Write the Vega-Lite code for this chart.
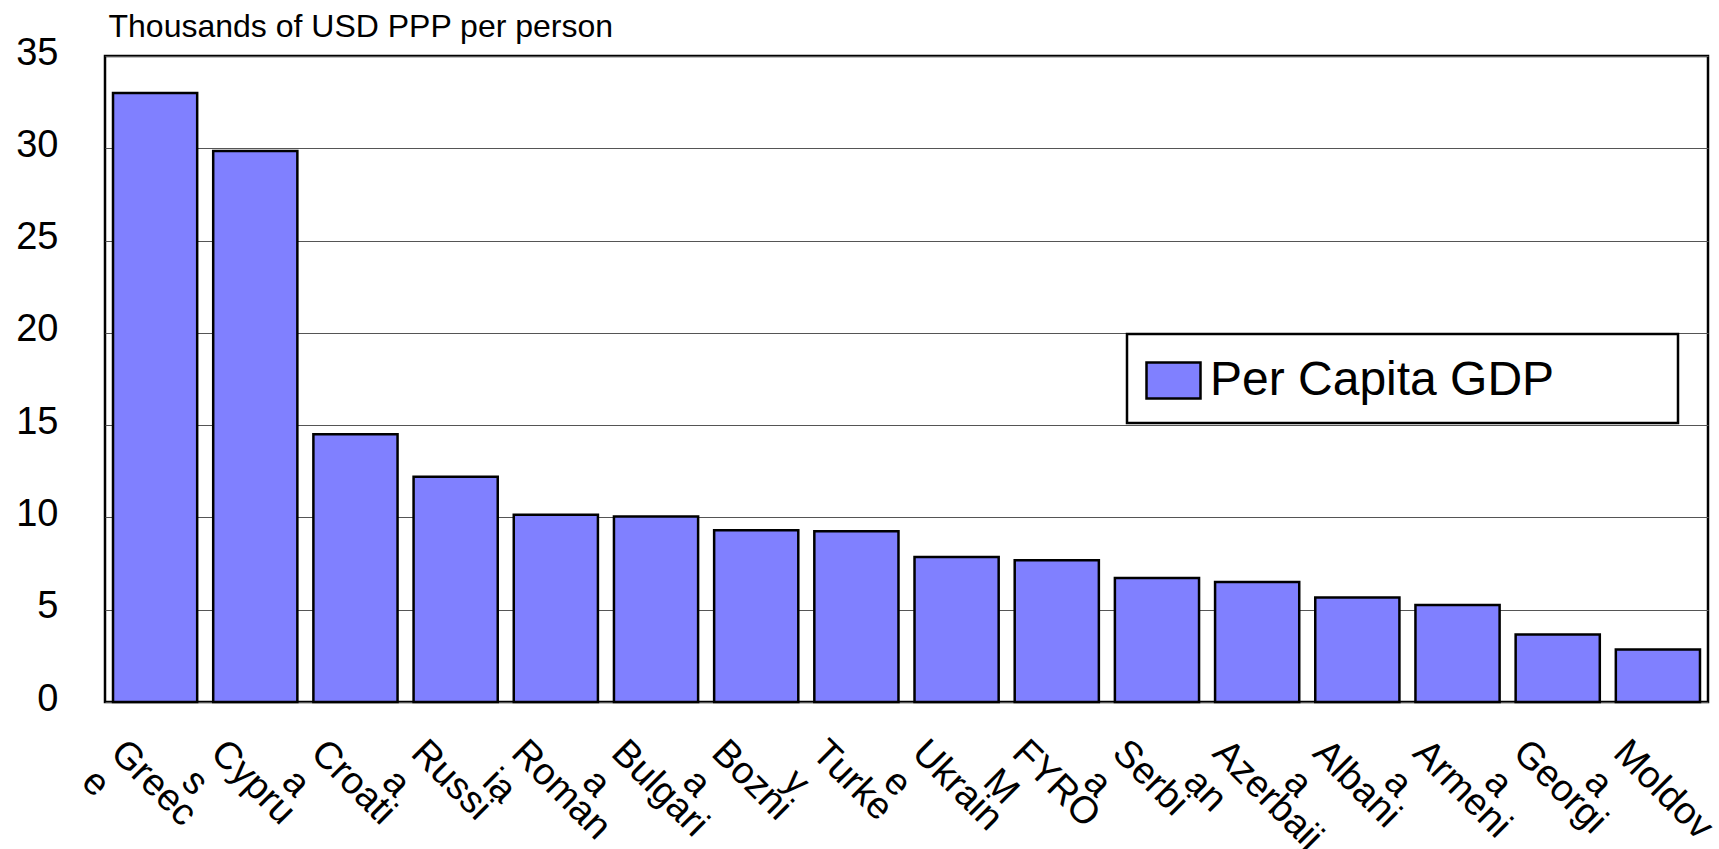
{
  "$schema": "https://vega.github.io/schema/vega-lite/v6.json",
  "width": 1603,
  "height": 646,
  "autosize": {"type": "none"},
  "padding": {"left": 105, "top": 56, "right": 11, "bottom": 147},
  "background": "white",
  "config": {
    "font": "Liberation Sans",
    "view": {"stroke": "black", "strokeWidth": 2.5},
    "legend": {"strokeWidth": 2.5}
  },
  "data": {
    "values": [
      {"country": "Greece", "gdp": 33.0, "series": "Per Capita GDP"},
      {"country": "Cyprus", "gdp": 29.85, "series": "Per Capita GDP"},
      {"country": "Croatia", "gdp": 14.5, "series": "Per Capita GDP"},
      {"country": "Russia", "gdp": 12.2, "series": "Per Capita GDP"},
      {"country": "Romania", "gdp": 10.15, "series": "Per Capita GDP"},
      {"country": "Bulgaria", "gdp": 10.05, "series": "Per Capita GDP"},
      {"country": "Boznia", "gdp": 9.3, "series": "Per Capita GDP"},
      {"country": "Turkey", "gdp": 9.25, "series": "Per Capita GDP"},
      {"country": "Ukraine", "gdp": 7.85, "series": "Per Capita GDP"},
      {"country": "FYROM", "gdp": 7.68, "series": "Per Capita GDP"},
      {"country": "Serbia", "gdp": 6.72, "series": "Per Capita GDP"},
      {"country": "Azerbaijan", "gdp": 6.5, "series": "Per Capita GDP"},
      {"country": "Albania", "gdp": 5.66, "series": "Per Capita GDP"},
      {"country": "Armenia", "gdp": 5.25, "series": "Per Capita GDP"},
      {"country": "Georgia", "gdp": 3.66, "series": "Per Capita GDP"},
      {"country": "Moldova", "gdp": 2.85, "series": "Per Capita GDP"}
    ]
  },
  "mark": {"type": "bar", "stroke": "black", "strokeWidth": 2.5},
  "encoding": {
    "x": {
      "field": "country",
      "type": "nominal",
      "sort": null,
      "scale": {"paddingInner": 0.16, "paddingOuter": 0.08},
      "axis": {
        "title": null,
        "domain": false,
        "ticks": false,
        "tickSize": 0,
        "labelAngle": 45,
        "labelAlign": "left",
        "labelBaseline": "top",
        "labelFontSize": 38,
        "labelLineHeight": 41,
        "labelColor": "black",
        "labelPadding": 31,
        "labelOffset": -25,
        "labelOverlap": false,
        "labelBound": false,
        "labelLimit": 400,
        "labelExpr": "{'Greece':['Greec','e'],'Cyprus':['Cypru','s'],'Croatia':['Croati','a'],'Russia':['Russi','a'],'Romania':['Roman','ia'],'Bulgaria':['Bulgari','a'],'Boznia':['Bozni','a'],'Turkey':['Turke','y'],'Ukraine':['Ukrain','e'],'FYROM':['FYRO','M'],'Serbia':['Serbi','a'],'Azerbaijan':['Azerbaij','an'],'Albania':['Albani','a'],'Armenia':['Armeni','a'],'Georgia':['Georgi','a'],'Moldova':['Moldov','a']}[datum.value]"
      }
    },
    "y": {
      "field": "gdp",
      "type": "quantitative",
      "scale": {"domain": [0, 35], "nice": false},
      "axis": {
        "values": [0, 5, 10, 15, 20, 25, 30, 35],
        "title": "Thousands of USD PPP per person",
        "titleAngle": 0,
        "titleAlign": "left",
        "titleBaseline": "alphabetic",
        "titleX": 3,
        "titleY": -20,
        "titleFontSize": 32,
        "titleFontWeight": "normal",
        "titleColor": "black",
        "domain": false,
        "ticks": false,
        "tickSize": 0,
        "grid": true,
        "gridColor": "#555555",
        "gridWidth": 1,
        "labelFontSize": 38,
        "labelColor": "black",
        "labelPadding": 47,
        "labelOffset": -3
      }
    },
    "fill": {
      "field": "series",
      "type": "nominal",
      "scale": {"range": ["#8080ff"]},
      "legend": {
        "title": null,
        "orient": "none",
        "legendX": 1022,
        "legendY": 278,
        "padding": 18,
        "fillColor": "white",
        "strokeColor": "black",
        "symbolType": "M-1,-0.667H1V0.667H-1Z",
        "symbolSize": 2916,
        "symbolStrokeColor": "black",
        "symbolStrokeWidth": 2.5,
        "symbolFillColor": "#8080ff",
        "symbolOpacity": 1,
        "labelFontSize": 48,
        "labelColor": "black",
        "labelOffset": 8,
        "labelLimit": 800,
        "labelExpr": "datum.label + '\u2800\u2800\u2800'"
      }
    }
  }
}
